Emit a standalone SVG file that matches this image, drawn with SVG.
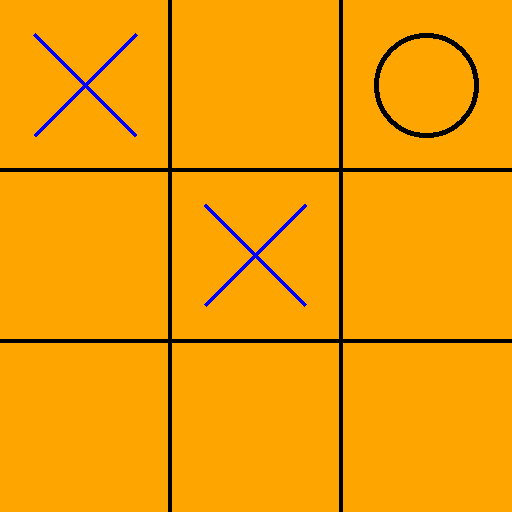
<svg xmlns="http://www.w3.org/2000/svg" width="512" height="512" viewBox="0 0 512 512" shape-rendering="crispEdges">
<style>
.grid{stroke:#000;stroke-width:4}
.x{stroke:#0000FF;stroke-width:3.5}
</style>
<rect width="512" height="512" fill="#FFA500"/>
<g id="grid">
<line class="grid" x1="170" y1="0" x2="170" y2="512"/>
<line class="grid" x1="341" y1="0" x2="341" y2="512"/>
<line class="grid" x1="0" y1="170" x2="512" y2="170"/>
<line class="grid" x1="0" y1="341" x2="512" y2="341"/>
</g>
<g id="x1">
<line class="x" x1="34.5" y1="34.5" x2="136.5" y2="136.5"/>
<line class="x" x1="136.5" y1="34.5" x2="34.5" y2="136.5"/>
</g>
<g id="x2">
<line class="x" x1="205" y1="205" x2="306" y2="306"/>
<line class="x" x1="306" y1="205" x2="205" y2="306"/>
</g>
<g id="o1">
<circle cx="426.5" cy="85.5" r="50" fill="none" stroke="#000" stroke-width="5"/>
</g>
</svg>
